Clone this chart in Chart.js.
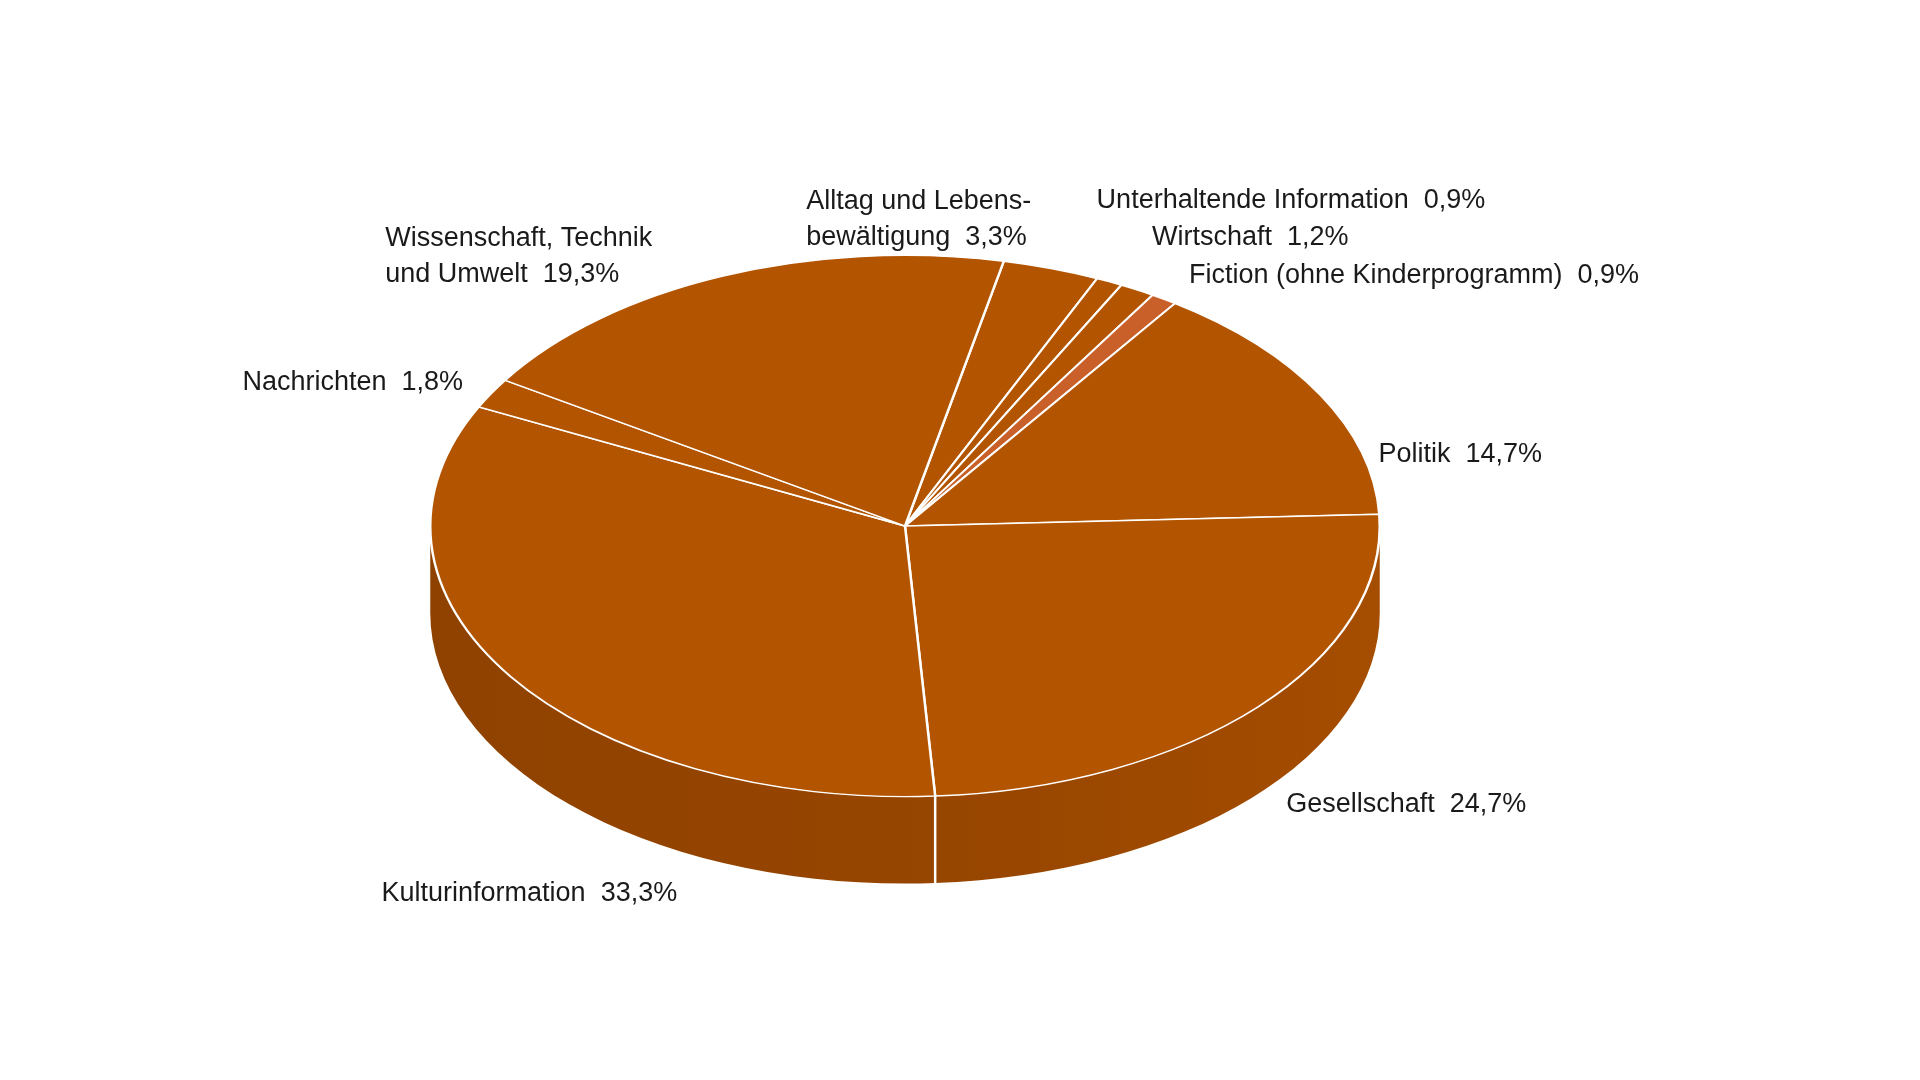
<!DOCTYPE html>
<html><head><meta charset="utf-8">
<script src="https://cdn.jsdelivr.net/npm/chart.js@4"></script>
<style>html,body{margin:0;background:#fff}#c{display:block}</style></head>
<body><canvas id="c" width="1920" height="1080"></canvas>
<script>
const categories = ["Alltag und Lebensbewältigung","Unterhaltende Information","Wirtschaft","Fiction (ohne Kinderprogramm)","Politik","Gesellschaft","Kulturinformation","Nachrichten","Wissenschaft, Technik und Umwelt"];
const values = [3.3,0.9,1.2,0.9,14.7,24.7,33.3,1.8,19.3];
const labelLines = [["Alltag und Lebens-","bewältigung  3,3%"],["Unterhaltende Information  0,9%"],["Wirtschaft  1,2%"],["Fiction (ohne Kinderprogramm)  0,9%"],["Politik  14,7%"],["Gesellschaft  24,7%"],["Kulturinformation  33,3%"],["Nachrichten  1,8%"],["Wissenschaft, Technik","und Umwelt  19,3%"]];
const sliceColors = values.map((v,i)=>i===3?"#c9602a":"#b25400");

const K = 0.57, DEPTH = 87, S = 1920/1560;
const labelPos = [[655,164],[891,163],[936,193],[966,224],[1120,369],[1045,654],[310,726],[197,311],[313,194]];

const pie3d = {
  id:'pie3d',
  beforeDatasetsDraw(chart){
    const ctx=chart.ctx, arcs=chart.getDatasetMeta(0).data;
    const cx=arcs[0].x, cy=arcs[0].y, R=arcs[0].outerRadius;
    const g=ctx.createLinearGradient(cx-R,0,cx+R,0);
    g.addColorStop(0,"#8f4200");g.addColorStop(0.6,"#984600");g.addColorStop(1,"#a54d00");
    const TAU=Math.PI*2;
    const bounds=[];
    arcs.forEach(a=>{
      for(const off of [-TAU,0,TAU]){
        const s=Math.max(a.startAngle+off,0), e=Math.min(a.endAngle+off,Math.PI);
        if(e>s){
          ctx.beginPath();
          ctx.ellipse(cx,cy,R,R*K,0,s,e);
          ctx.ellipse(cx,cy+DEPTH,R,R*K,0,e,s,true);
          ctx.closePath();ctx.fillStyle=g;ctx.fill();
        }
        const b=a.startAngle+off;
        if(b>0.02&&b<Math.PI-0.02) bounds.push(b);
      }
    });
    ctx.strokeStyle="#fff";ctx.lineWidth=2.5;
    bounds.forEach(b=>{
      const x=cx+R*Math.cos(b), y=cy+R*K*Math.sin(b);
      ctx.beginPath();ctx.moveTo(x,y);ctx.lineTo(x,y+DEPTH);ctx.stroke();
    });
    ctx.save();ctx.translate(cx,cy);ctx.scale(1,K);ctx.translate(-cx,-cy);
  },
  afterDatasetsDraw(chart){
    const ctx=chart.ctx;ctx.restore();
    ctx.save();
    ctx.fillStyle="#1a1a1a";ctx.font="27px 'Liberation Sans', Arial, sans-serif";
    ctx.textBaseline="middle";ctx.textAlign="left";
    labelLines.forEach((lines,i)=>{
      lines.forEach((t,j)=>ctx.fillText(t,labelPos[i][0]*S,labelPos[i][1]*S+j*36));
    });
    ctx.restore();
  }
};

new Chart(document.getElementById('c'),{
  type:'pie',
  data:{labels:categories,datasets:[{data:values,backgroundColor:sliceColors,borderColor:"#fff",borderWidth:2.5}]},
  options:{responsive:false,animation:false,rotation:12,
    layout:{padding:{left:429,right:539,top:50,bottom:78}},
    plugins:{legend:{display:false},tooltip:{enabled:false}}},
  plugins:[pie3d]
});
</script></body></html>
